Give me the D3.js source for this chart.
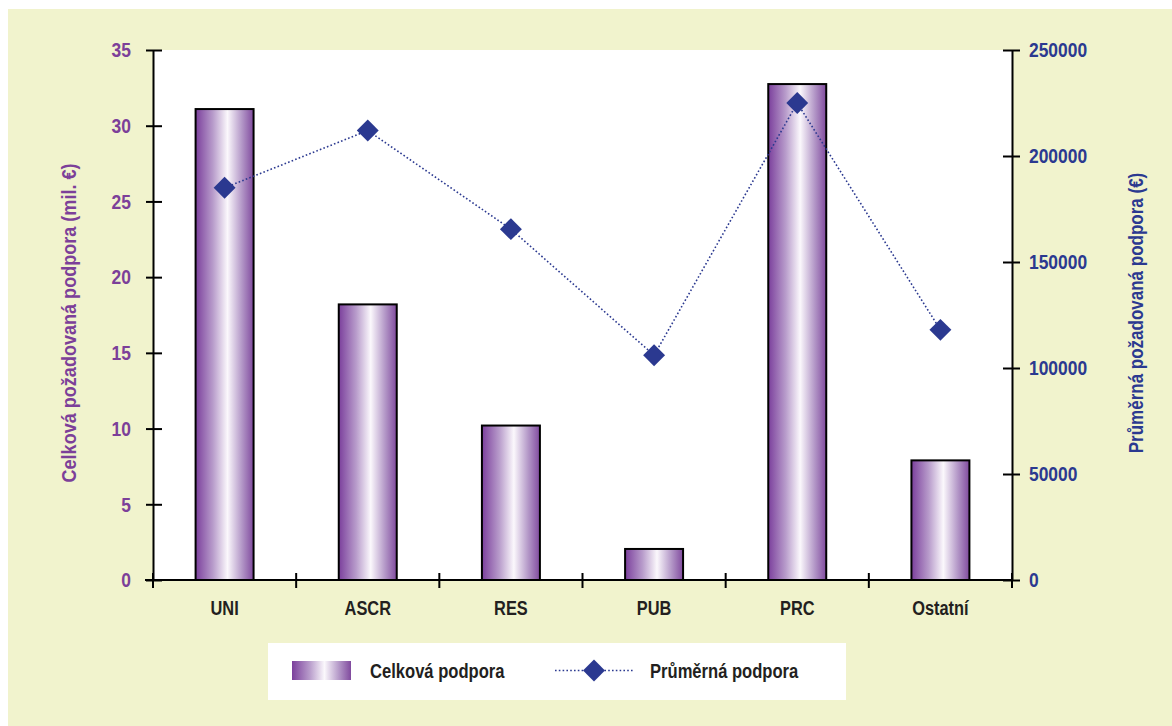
<!DOCTYPE html>
<html>
<head>
<meta charset="utf-8">
<script src="https://cdn.jsdelivr.net/npm/d3@7"></script>
<style>
  html, body { margin: 0; padding: 0; background: #ffffff; }
  svg { display: block; }
  text { font-family: "Liberation Sans", Arial, sans-serif; font-weight: bold; }
</style>
</head>
<body>
<svg id="chart" width="1172" height="726"></svg>
<script>
// Categories of applicants
const categories = ["UNI", "ASCR", "RES", "PUB", "PRC", "Ostatní"];
// Total requested support (mil. €) – bars, left axis
const totalSupport = [31.1, 18.2, 10.2, 2.05, 32.75, 7.9];
// Average requested support (€) – line, right axis
const averageSupport = [185000, 212000, 165500, 106000, 225000, 118000];
// Axis ticks
const leftTicks = [0, 5, 10, 15, 20, 25, 30, 35];
const rightTicks = [0, 50000, 100000, 150000, 200000, 250000];

const labels = {
  left: "Celková požadovaná podpora (mil. €)",
  right: "Průměrná požadovaná podpora (€)",
  bars: "Celková podpora",
  line: "Průměrná podpora"
};

const purple = "#7c3f99";
const navy = "#2b3990";
const ink = "#231f20";
const FONT = 21;

// Narrow the bold sans glyphs horizontally to get a condensed face.
function condense(sel, sx) {
  sel.each(function () {
    const t = d3.select(this);
    const x = +t.attr("x") || 0;
    const y = +t.attr("y") || 0;
    t.attr("x", 0).attr("y", 0)
      .attr("transform", `translate(${x},${y}) scale(${sx},1)`);
  });
}

const svg = d3.select("#chart");

// Background panel
svg.append("rect").attr("x", 8).attr("y", 9).attr("width", 1164).attr("height", 717).attr("fill", "#f1f3cd");

const plot = { left: 153, right: 1012, top: 50, bottom: 580 };

svg.append("rect")
  .attr("x", plot.left).attr("y", plot.top)
  .attr("width", plot.right - plot.left).attr("height", plot.bottom - plot.top)
  .attr("fill", "#ffffff");

const x = d3.scaleBand().domain(categories).range([plot.left, plot.right]).paddingInner(0.595).paddingOuter(0.2975);
const xBand = d3.scaleBand().domain(categories).range([plot.left, plot.right]);
const yL = d3.scaleLinear().domain([0, 35]).range([plot.bottom, plot.top]);
const yR = d3.scaleLinear().domain([0, 250000]).range([plot.bottom, plot.top]);

// Bar gradient
const defs = svg.append("defs");
const grad = defs.append("linearGradient").attr("id", "barGrad").attr("x1", "0").attr("x2", "1").attr("y1", "0").attr("y2", "0");
grad.append("stop").attr("offset", "0%").attr("stop-color", "#7b3f9c");
grad.append("stop").attr("offset", "30%").attr("stop-color", "#b89ccb");
grad.append("stop").attr("offset", "55%").attr("stop-color", "#fbf8fc");
grad.append("stop").attr("offset", "80%").attr("stop-color", "#b397c7");
grad.append("stop").attr("offset", "100%").attr("stop-color", "#804a9e");

// Bars
svg.append("g").selectAll("rect").data(categories).join("rect")
  .attr("x", d => x(d))
  .attr("y", (d, i) => yL(totalSupport[i]))
  .attr("width", x.bandwidth())
  .attr("height", (d, i) => yL(0) - yL(totalSupport[i]))
  .attr("fill", "url(#barGrad)")
  .attr("stroke", "#000")
  .attr("stroke-width", 2);

// Axes
const axisStyle = g => {
  g.select(".domain").attr("stroke", "#000").attr("stroke-width", 2);
  g.selectAll(".tick line").attr("stroke", "#000").attr("stroke-width", 2);
};

const leftAxis = svg.append("g").attr("transform", `translate(${plot.left},0)`)
  .call(d3.axisLeft(yL).tickValues(leftTicks).tickSize(8).tickSizeOuter(0).tickPadding(14))
  .call(axisStyle);
leftAxis.selectAll(".tick line").attr("x2", 9).attr("x1", -7);
leftAxis.selectAll(".tick text").attr("fill", purple).attr("font-size", FONT).attr("font-family", null)
  .call(condense, 0.83);

const rightAxis = svg.append("g").attr("transform", `translate(${plot.right},0)`)
  .call(d3.axisRight(yR).tickValues(rightTicks).tickSize(8).tickSizeOuter(0).tickPadding(9).tickFormat(d3.format("d")))
  .call(axisStyle);
rightAxis.selectAll(".tick line").attr("x1", -9).attr("x2", 8);
rightAxis.selectAll(".tick text").attr("fill", navy).attr("font-size", FONT).attr("font-family", null).attr("text-anchor", "start")
  .call(condense, 0.83);

// Bottom axis: ticks at category boundaries
const bottom = svg.append("g").attr("transform", `translate(0,${plot.bottom})`);
bottom.append("line").attr("x1", plot.left - 8).attr("x2", plot.right).attr("stroke", "#000").attr("stroke-width", 2);
const boundaries = categories.map(c => xBand(c)).concat([plot.right]);
bottom.selectAll("line.tk").data(boundaries).join("line").attr("class", "tk")
  .attr("x1", d => d).attr("x2", d => d).attr("y1", -7).attr("y2", 8)
  .attr("stroke", "#000").attr("stroke-width", 2);
bottom.selectAll("text").data(categories).join("text")
  .attr("x", d => xBand(d) + xBand.bandwidth() / 2)
  .attr("y", 35)
  .attr("text-anchor", "middle")
  .attr("font-size", FONT)
  .attr("fill", ink)
  .text(d => d)
  .call(condense, 0.78);

// Average support line
const lineGen = d3.line()
  .x((d, i) => xBand(categories[i]) + xBand.bandwidth() / 2)
  .y(d => yR(d));
svg.append("path").datum(averageSupport)
  .attr("d", lineGen)
  .attr("fill", "none")
  .attr("stroke", navy)
  .attr("stroke-width", 1.6)
  .attr("stroke-dasharray", "1.6,2.2");

const diamond = d3.symbol().type(d3.symbolSquare).size(240);
svg.append("g").selectAll("path").data(averageSupport).join("path")
  .attr("d", diamond)
  .attr("transform", (d, i) => `translate(${xBand(categories[i]) + xBand.bandwidth() / 2},${yR(d)}) rotate(45)`)
  .attr("fill", navy);

// Axis titles
svg.append("text")
  .attr("transform", `translate(76,323) rotate(-90) scale(0.86,1)`)
  .attr("text-anchor", "middle")
  .attr("font-size", FONT)
  .attr("fill", purple)
  .text(labels.left);

svg.append("text")
  .attr("transform", `translate(1143,313) rotate(-90) scale(0.81,1)`)
  .attr("text-anchor", "middle")
  .attr("font-size", FONT)
  .attr("fill", navy)
  .text(labels.right);

// Legend
const legend = svg.append("g");
legend.append("rect").attr("x", 268).attr("y", 643).attr("width", 578).attr("height", 57).attr("fill", "#ffffff");
legend.append("rect").attr("x", 292).attr("y", 661).attr("width", 59).attr("height", 19).attr("fill", "url(#barGrad)");
legend.append("text").attr("x", 370).attr("y", 678).attr("font-size", FONT).attr("fill", ink).text(labels.bars)
  .call(condense, 0.79);
legend.append("line").attr("x1", 555).attr("x2", 633).attr("y1", 670.5).attr("y2", 670.5)
  .attr("stroke", navy).attr("stroke-width", 1.6).attr("stroke-dasharray", "1.6,2.2");
legend.append("path").attr("d", diamond).attr("transform", "translate(594,670.5) rotate(45)").attr("fill", navy);
legend.append("text").attr("x", 650).attr("y", 678).attr("font-size", FONT).attr("fill", ink).text(labels.line)
  .call(condense, 0.79);
</script>
</body>
</html>
